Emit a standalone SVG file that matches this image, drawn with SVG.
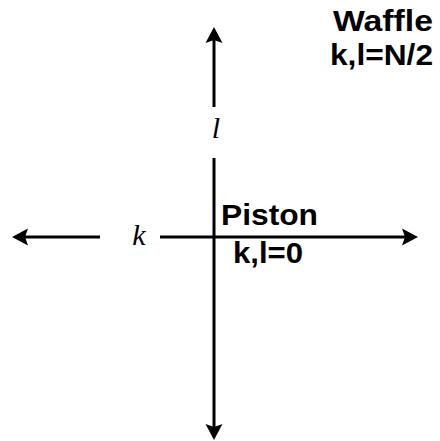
<svg xmlns="http://www.w3.org/2000/svg" width="440" height="441" viewBox="0 0 440 441">
<style>
.ax{stroke:#000;stroke-width:3;fill:none;marker-end:url(#ah)}
.lbl{font-family:"Liberation Sans",Arial,sans-serif;font-weight:bold;font-size:30px;fill:#000}
.var{font-family:"Liberation Serif","DejaVu Serif",serif;font-style:italic;font-size:30px;fill:#000}
</style>
<defs>
<marker id="ah" markerUnits="userSpaceOnUse" markerWidth="20" markerHeight="20" viewBox="-1 -10 20 20" refX="3" refY="0" orient="auto">
<path d="M0,-8.5 L16,0 L0,8.5 L3,0 Z" fill="#000"/>
</marker>
</defs>
<rect width="440" height="441" fill="#fff"/>
<g id="connectors">
<line class="ax" x1="214" y1="107" x2="214" y2="40"/>
<line class="ax" x1="214" y1="158" x2="214" y2="427"/>
<line class="ax" x1="100" y1="237" x2="25" y2="237"/>
<line class="ax" x1="160" y1="237" x2="405" y2="237"/>
</g>
<g id="l-label"><text class="var" x="216" y="138" text-anchor="middle">l</text></g>
<g id="k-label"><text class="var" x="139" y="245" text-anchor="middle">k</text></g>
<g id="piston"><text class="lbl" x="221" y="225" textLength="97" lengthAdjust="spacingAndGlyphs">Piston</text><text class="lbl" x="233" y="263" textLength="70" lengthAdjust="spacingAndGlyphs">k,l=0</text></g>
<g id="waffle"><text class="lbl" x="333" y="31" textLength="100" lengthAdjust="spacingAndGlyphs">Waffle</text><text class="lbl" x="330" y="65" textLength="103" lengthAdjust="spacingAndGlyphs">k,l=N/2</text></g>
</svg>
